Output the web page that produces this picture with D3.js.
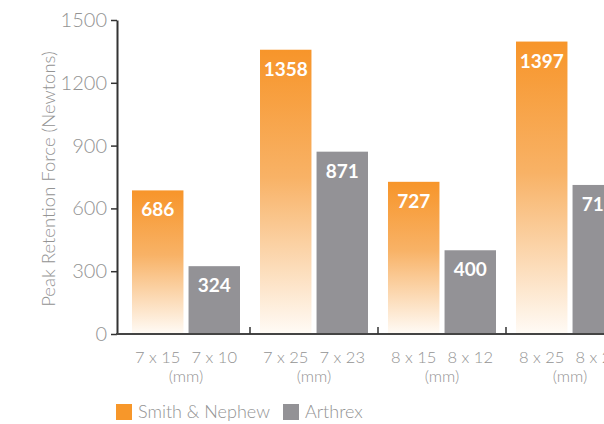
<!DOCTYPE html>
<html><head><meta charset="utf-8">
<script src="https://cdn.jsdelivr.net/npm/d3@7"></script>
<style>
html,body{margin:0;padding:0;background:#fff;overflow:hidden;}
svg{display:block;}
</style></head>
<body>
<svg id="chart" width="604" height="424"></svg>
<script>
const groups = ["g1","g2","g3","g4"];
const snLabels = ["7 x 15","7 x 25","8 x 15","8 x 25"];
const arLabels = ["7 x 10","7 x 23","8 x 12","8 x 23"];
const snValues = [686,1358,727,1397];
const arValues = [324,871,400,712];
const yTicks = [0,300,600,900,1200,1500];
const seriesNames = ["Smith & Nephew","Arthrex"];

const svg = d3.select("#chart");
const gray = "#939296";
const txt = "#939393";

const defs = svg.append("defs");
const grad = defs.append("linearGradient").attr("id","og").attr("x1",0).attr("y1",0).attr("x2",0).attr("y2",1);
grad.append("stop").attr("offset","0%").attr("stop-color","#f7952a");
grad.append("stop").attr("offset","45%").attr("stop-color","#f8b266");
grad.append("stop").attr("offset","100%").attr("stop-color","#fffbf6");

const y = d3.scaleLinear().domain([0,1500]).range([334,20]);
const x0 = d3.scaleBand().domain(groups).range([122,634]).paddingInner(0).paddingOuter(0);
const x1 = d3.scaleBand().domain([0,1]).range([10,118]).paddingInner(0.09);

// bars
const g = svg.append("g");
groups.forEach((k,i)=>{
  const vals=[snValues[i],arValues[i]];
  vals.forEach((v,j)=>{
    const bx = x0(k)+x1(j);
    g.append("rect").attr("x",bx).attr("y",y(v)).attr("width",x1.bandwidth()).attr("height",y(0)-y(v))
      .attr("fill", j===0?"url(#og)":gray);
    g.append("text").attr("x",bx+x1.bandwidth()/2).attr("y",y(v)+26)
      .attr("text-anchor","middle").attr("fill","#fff")
      .style("font-family","Lato").style("font-weight","700").style("font-size","19px")
      .text(v);
    const lab = j===0?snLabels[i]:arLabels[i];
    g.append("text").attr("x",bx+x1.bandwidth()/2).attr("y",363)
      .attr("text-anchor","middle").attr("fill",txt)
      .style("font-family","Lato").style("font-weight","300").style("font-size","16.5px")
      .text(lab);
  });
  g.append("text").attr("x",x0(k)+64).attr("y",382)
    .attr("text-anchor","middle").attr("fill",txt)
    .style("font-family","Lato").style("font-weight","300").style("font-size","16.5px")
    .text("(mm)");
});

// y axis
const yAxis = d3.axisLeft(y).tickValues(yTicks).tickFormat(d3.format("d")).tickSize(6).tickPadding(4).tickSizeOuter(0);
const ya = svg.append("g").attr("transform","translate(117,0)").call(yAxis);
ya.select(".domain").attr("stroke","#333").attr("stroke-width",2);
ya.selectAll(".tick line").attr("stroke","#333").attr("stroke-width",1.5);
ya.selectAll(".tick text").attr("fill",txt).style("font-family","Lato").style("font-weight","300").style("font-size","20px");

// x axis baseline with separator ticks
const seps = groups.slice(1).map(k=>x0(k));
const xa = svg.append("g");
xa.append("line").attr("x1",116).attr("x2",604).attr("y1",y(0)).attr("y2",y(0)).attr("stroke","#444").attr("stroke-width",2);
seps.forEach(s=>xa.append("line").attr("x1",s).attr("x2",s).attr("y1",y(0)).attr("y2",y(0)-7).attr("stroke","#333").attr("stroke-width",1.5));

// y title
svg.append("text").attr("transform","translate(55,179) rotate(-90)").attr("text-anchor","middle")
  .attr("fill",txt).style("font-family","Lato").style("font-weight","300").style("font-size","18.5px")
  .text("Peak Retention Force (Newtons)");

// legend
const lg = svg.append("g");
lg.append("rect").attr("x",116).attr("y",404).attr("width",16).attr("height",16).attr("fill","#f7972a");
lg.append("text").attr("x",138).attr("y",418).attr("fill",txt).style("font-family","Lato").style("font-weight","300").style("font-size","18px").text(seriesNames[0]);
lg.append("rect").attr("x",283).attr("y",404).attr("width",16).attr("height",16).attr("fill",gray);
lg.append("text").attr("x",305).attr("y",418).attr("fill",txt).style("font-family","Lato").style("font-weight","300").style("font-size","18px").text(seriesNames[1]);
</script>
</body></html>
